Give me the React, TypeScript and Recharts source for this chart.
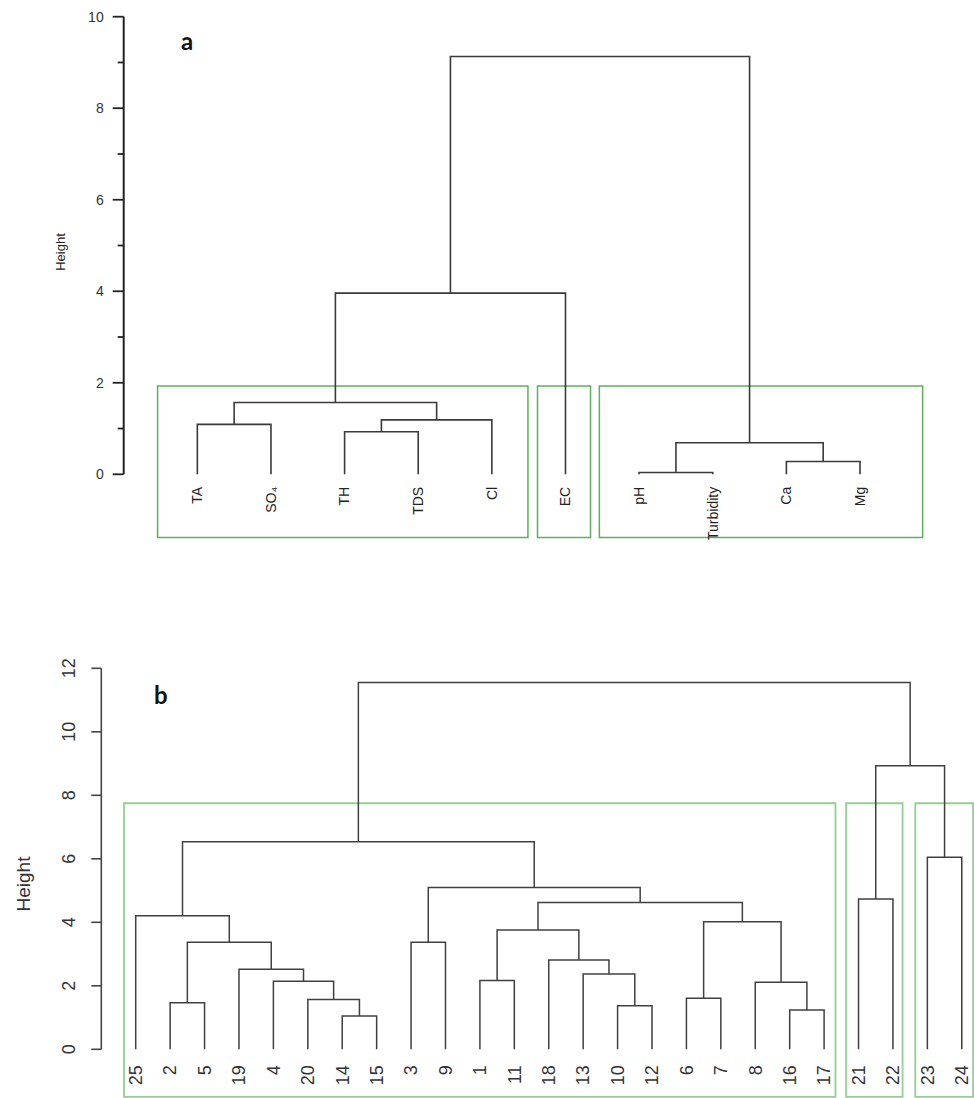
import React from 'react'
import { ComposedChart, Line, XAxis, YAxis, ReferenceArea } from 'recharts'

// panel a – water quality parameters
const paramLabels = ['TA', 'SO₄', 'TH', 'TDS', 'Cl', 'EC', 'pH', 'Turbidity', 'Ca', 'Mg']
// hclust style merge table: negative = leaf position, positive = earlier step
const paramMerges = [[-7, -8], [-9, -10], [1, 2], [-3, -4], [-1, -2], [4, -5], [5, 6], [7, -6], [8, 3]]
const paramHeights = [0.04, 0.28, 0.69, 0.93, 1.09, 1.19, 1.57, 3.96, 9.13]
const paramTicks = [0, 1, 2, 3, 4, 5, 6, 7, 8, 9, 10]
const paramBoxes = [[0.46, 5.49], [5.62, 6.34], [6.46, 10.85]]
const paramBoxTop = 1.93
const paramBoxBottom = -1.38

// panel b – sampling sites
const siteLabels = ['25', '2', '5', '19', '4', '20', '14', '15', '3', '9', '1', '11', '18', '13', '10', '12', '6', '7', '8', '16', '17', '21', '22', '23', '24']
const siteMerges = [
    [-7, -8], [-6, 1], [-5, 2], [-4, 3], [-2, -3], [5, 4], [-1, 6],
    [-9, -10], [-11, -12], [-15, -16], [-14, 10], [-13, 11], [9, 12],
    [-17, -18], [-20, -21], [-19, 15], [14, 16], [13, 17], [8, 18], [7, 19],
    [-22, -23], [-24, -25], [21, 22], [20, 23],
]
const siteHeights = [
    1.05, 1.57, 2.14, 2.52, 1.47, 3.37, 4.21,
    3.37, 2.17, 1.37, 2.37, 2.81, 3.76,
    1.61, 1.24, 2.11, 4.02, 4.62, 5.10, 6.54,
    4.73, 6.05, 8.93, 11.55,
]
const siteTicks = [0, 2, 4, 6, 8, 10, 12]
const siteBoxes = [[0.66, 21.33], [21.64, 23.28], [23.65, 25.33]]
const siteBoxTop = 7.75
const siteBoxBottom = -1.5

type Pt = { x: number; y: number }

function buildLinks(merges: number[][], heights: number[]) {
    const nodes: Pt[] = []
    const node = (i: number): Pt => (i < 0 ? { x: -i, y: 0 } : nodes[i - 1])
    return merges.map(([a, b], k) => {
        const l = node(a)
        const r = node(b)
        const h = heights[k]
        nodes.push({ x: (l.x + r.x) / 2, y: h })
        return [{ x: l.x, y: l.y }, { x: l.x, y: h }, { x: r.x, y: h }, { x: r.x, y: r.y }]
    })
}

const paramLinks = buildLinks(paramMerges, paramHeights)
const siteLinks = buildLinks(siteMerges, siteHeights)

function ParamChart() {
    const leafTicks = paramLabels.map((_, i) => i + 1)
    return (
        <ComposedChart width={974} height={560} margin={{ top: 16.7, right: 10.9, bottom: 15.7, left: 43.7 }}>
            <XAxis
                type="number"
                dataKey="x"
                domain={[0, 11.4]}
                ticks={leafTicks}
                interval={0}
                axisLine={false}
                tickLine={false}
                tickSize={0}
                tickMargin={0}
                height={70}
                tick={(p: any) => {
                    const ty = p.y + 12.5
                    return (
                        <text x={p.x} y={ty} transform={`rotate(-90 ${p.x} ${ty})`} textAnchor="end" dy="0.35em" fontSize={14} fill="#222">
                            {paramLabels[p.payload.value - 1]}
                        </text>
                    )
                }}
            />
            <YAxis
                type="number"
                dataKey="y"
                domain={[0, 10]}
                ticks={paramTicks}
                interval={0}
                width={80}
                tickSize={0}
                tickMargin={0}
                tickLine={false}
                axisLine={{ stroke: '#222', strokeWidth: 2 }}
                tick={(p: any) => {
                    const major = p.payload.value % 2 === 0
                    return (
                        <g>
                            <line x1={p.x - (major ? 11 : 6)} x2={p.x} y1={p.y} y2={p.y} stroke="#222" strokeWidth={1.8} />
                            {major && (
                                <text x={p.x - 20} y={p.y} dy="0.35em" textAnchor="end" fontSize={14} fill="#333">
                                    {p.payload.value}
                                </text>
                            )}
                        </g>
                    )
                }}
                label={{
                    content: (p: any) => {
                        const vb = p.viewBox
                        const lx = vb.x + vb.width - 63
                        const ly = 252
                        return (
                            <text x={lx} y={ly} transform={`rotate(-90 ${lx} ${ly})`} textAnchor="middle" dy="0.35em" fontSize={13} fill="#222">
                                Height
                            </text>
                        )
                    },
                }}
            />
            {paramBoxes.map(([x1, x2], i) => (
                <ReferenceArea
                    key={'box' + i}
                    x1={x1}
                    x2={x2}
                    y1={paramBoxBottom}
                    y2={paramBoxTop}
                    fill="none"
                    fillOpacity={0}
                    stroke="#5fae5f"
                    strokeWidth={1.5}
                    ifOverflow="visible"
                />
            ))}
            {paramLinks.map((pts, i) => (
                <Line
                    key={'link' + i}
                    data={pts}
                    dataKey="y"
                    type="linear"
                    stroke="#3a3a3a"
                    strokeWidth={1.6}
                    dot={false}
                    activeDot={false}
                    isAnimationActive={false}
                />
            ))}
        </ComposedChart>
    )
}

function SiteChart() {
    const leafTicks = siteLabels.map((_, i) => i + 1)
    return (
        <ComposedChart width={974} height={538} margin={{ top: 108.3, right: 1.9, bottom: 8.7, left: 21.3 }}>
            <XAxis
                type="number"
                dataKey="x"
                domain={[0, 25.3]}
                ticks={leafTicks}
                interval={0}
                axisLine={false}
                tickLine={false}
                tickSize={0}
                tickMargin={0}
                height={40}
                tick={(p: any) => {
                    const ty = p.y + 16
                    return (
                        <text x={p.x} y={ty} transform={`rotate(-90 ${p.x} ${ty})`} textAnchor="end" dy="0.35em" fontSize={18} fill="#333">
                            {siteLabels[p.payload.value - 1]}
                        </text>
                    )
                }}
            />
            <YAxis
                type="number"
                dataKey="y"
                domain={[0, 12]}
                ticks={siteTicks}
                interval={0}
                width={80}
                tickSize={0}
                tickMargin={0}
                tickLine={false}
                axisLine={{ stroke: '#444', strokeWidth: 1.6 }}
                tick={(p: any) => {
                    const lx = p.x - 33
                    return (
                        <g>
                            <line x1={p.x - 10} x2={p.x} y1={p.y} y2={p.y} stroke="#444" strokeWidth={1.6} />
                            <text x={lx} y={p.y} transform={`rotate(-90 ${lx} ${p.y})`} textAnchor="middle" dy="0.35em" fontSize={18} fill="#333">
                                {p.payload.value}
                            </text>
                        </g>
                    )
                }}
                label={{
                    content: (p: any) => {
                        const vb = p.viewBox
                        const lx = vb.x + vb.width - 78
                        const ly = 324
                        return (
                            <text x={lx} y={ly} transform={`rotate(-90 ${lx} ${ly})`} textAnchor="middle" dy="0.35em" fontSize={19} fill="#333">
                                Height
                            </text>
                        )
                    },
                }}
            />
            {siteBoxes.map(([x1, x2], i) => (
                <ReferenceArea
                    key={'box' + i}
                    x1={x1}
                    x2={x2}
                    y1={siteBoxBottom}
                    y2={siteBoxTop}
                    fill="none"
                    fillOpacity={0}
                    stroke="#92cf92"
                    strokeWidth={1.8}
                    ifOverflow="visible"
                />
            ))}
            {siteLinks.map((pts, i) => (
                <Line
                    key={'link' + i}
                    data={pts}
                    dataKey="y"
                    type="linear"
                    stroke="#404040"
                    strokeWidth={1.5}
                    dot={false}
                    activeDot={false}
                    isAnimationActive={false}
                />
            ))}
        </ComposedChart>
    )
}

const panelTag: React.CSSProperties = {
    position: 'absolute',
    fontFamily: 'Lato, "Open Sans", sans-serif',
    fontWeight: 700,
    fontSize: 24,
    lineHeight: '24px',
    color: '#111',
}

export default function App() {
    return (
        <div
            style={{
                position: 'absolute',
                left: 0,
                top: 0,
                width: 974,
                height: 1098,
                background: '#fff',
                overflow: 'hidden',
                fontFamily: '"Liberation Sans", Arial, sans-serif',
            }}
        >
            <div style={{ position: 'absolute', left: 0, top: 0 }}>
                <ParamChart />
            </div>
            <div style={{ ...panelTag, left: 181, top: 29 }}>a</div>
            <div style={{ position: 'absolute', left: 0, top: 560 }}>
                <SiteChart />
            </div>
            <div style={{ ...panelTag, left: 154, top: 683 }}>b</div>
        </div>
    )
}
